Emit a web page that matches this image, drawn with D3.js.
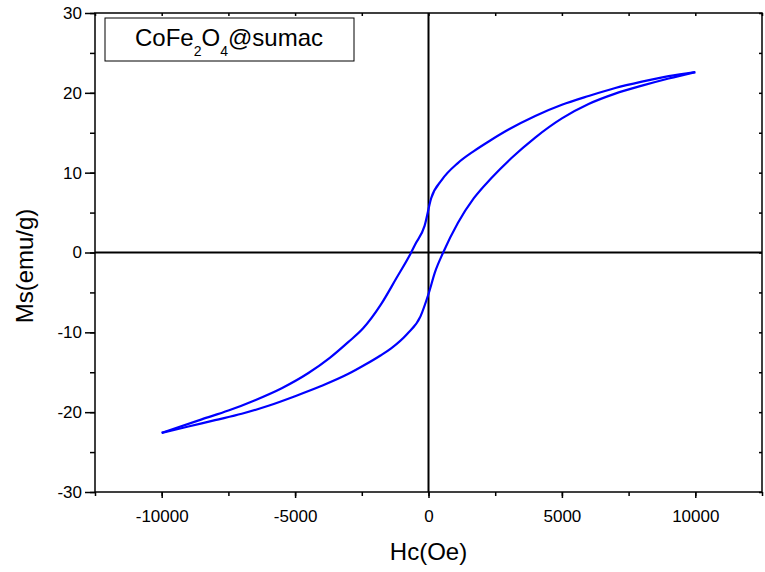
<!DOCTYPE html>
<html>
<head>
<meta charset="utf-8">
<script src="https://cdn.jsdelivr.net/npm/d3@7"></script>
<style>
  body { margin: 0; background: #fff; }
  svg { font-family: "Liberation Sans", Arial, sans-serif; }
</style>
</head>
<body>
<div id="chart"></div>
<script>
// DATA - read off the hysteresis loop
// descending branch (+10000 -> -10000)
var descH = [10000, 9000, 8000, 7000, 6000, 5000, 4000, 3000, 2300, 1700, 1100, 500, 100, -150, -500, -650, -1200, -1800, -2450, -3000, -3700, -4500, -5500, -6500, -7500, -8500, -10000];
var descM = [22.6, 22.1, 21.4, 20.6, 19.6, 18.5, 17.1, 15.4, 14.0, 12.7, 11.2, 9.1, 6.8, 3.3, 1.0, 0, -3.2, -6.6, -9.5, -11.2, -13.2, -15.1, -17.0, -18.5, -19.8, -20.9, -22.6];
// ascending branch (-10000 -> +10000)
var ascH = [-10000, -9000, -8000, -7000, -6000, -5000, -4000, -3000, -2400, -1800, -1400, -800, -300, 0, 250, 550, 1100, 1700, 2350, 3100, 4000, 5000, 6000, 7000, 8000, 9000, 10000];
var ascM = [-22.6, -21.8, -21.0, -20.2, -19.2, -18.0, -16.7, -15.2, -14.1, -12.9, -12.0, -10.2, -8.0, -5.2, -2.4, 0, 3.7, 6.8, 9.3, 11.8, 14.4, 16.8, 18.6, 19.9, 20.9, 21.8, 22.6];

var xTicks = [-10000, -5000, 0, 5000, 10000];
var yTicks = [-30, -20, -10, 0, 10, 20, 30];

var w = 765, h = 572;
var m = { left: 95, right: 762, top: 13, bottom: 492 };

buildIt();

function buildIt() {
  var svg = d3.select("#chart").append("svg").attr("width", w).attr("height", h);

  // SCALES
  var x = d3.scaleLinear().domain([-12500, 12500]).range([m.left, m.right]);
  var y = d3.scaleLinear().domain([-30, 30]).range([m.bottom, m.top]);

  // plain hyphen-minus like the original
  var fmt = function (d) { return String(d); };

  // zero lines
  svg.append("line")
    .attr("x1", m.left).attr("x2", m.right)
    .attr("y1", y(0)).attr("y2", y(0))
    .attr("stroke", "#000").attr("stroke-width", 2);
  svg.append("line")
    .attr("x1", x(0)).attr("x2", x(0))
    .attr("y1", m.top).attr("y2", m.bottom)
    .attr("stroke", "#000").attr("stroke-width", 2);

  // frame
  svg.append("rect")
    .attr("x", m.left).attr("y", m.top)
    .attr("width", m.right - m.left).attr("height", m.bottom - m.top)
    .attr("fill", "none").attr("stroke", "#000").attr("stroke-width", 1.5);

  // AXES
  var xMinor = d3.range(-12500, 12501, 2500);
  var yMinor = d3.range(-30, 31, 5);

  function styleAxis(g) {
    g.select(".domain").remove();
    g.selectAll("line").attr("stroke", "#000").attr("stroke-width", 1.5);
    g.selectAll("text").attr("fill", "#000").attr("font-size", "17px")
      .attr("font-family", "Liberation Sans, Arial, sans-serif");
  }

  // bottom minor + major
  svg.append("g")
    .attr("transform", "translate(0," + m.bottom + ")")
    .call(d3.axisBottom(x).tickValues(xMinor).tickSize(4).tickFormat(""))
    .call(styleAxis);
  svg.append("g")
    .attr("transform", "translate(0," + m.bottom + ")")
    .call(d3.axisBottom(x).tickValues(xTicks).tickSize(6).tickPadding(12).tickFormat(fmt))
    .call(styleAxis);

  // left minor + major
  svg.append("g")
    .attr("transform", "translate(" + m.left + ",0)")
    .call(d3.axisLeft(y).tickValues(yMinor).tickSize(5).tickFormat(""))
    .call(styleAxis);
  svg.append("g")
    .attr("transform", "translate(" + m.left + ",0)")
    .call(d3.axisLeft(y).tickValues(yTicks).tickSize(10).tickPadding(3).tickFormat(fmt))
    .call(styleAxis);

  // top and right inward ticks
  svg.append("g")
    .attr("transform", "translate(0," + m.top + ")")
    .call(d3.axisBottom(x).tickValues(xMinor).tickSize(3).tickFormat(""))
    .call(styleAxis);
  svg.append("g")
    .attr("transform", "translate(" + m.right + ",0)")
    .call(d3.axisLeft(y).tickValues(yMinor).tickSize(3).tickFormat(""))
    .call(styleAxis);

  // axis titles
  svg.append("text")
    .attr("x", x(0)).attr("y", 560)
    .attr("text-anchor", "middle")
    .attr("font-size", "24px")
    .text("Hc(Oe)");

  svg.append("text")
    .attr("transform", "translate(33,266) rotate(-90)")
    .attr("text-anchor", "middle")
    .attr("font-size", "24px")
    .text("Ms(emu/g)");

  // LOOP - each branch is monotone in H, so sort it by H and use monotoneX
  var line = d3.line()
    .x(function (d) { return x(d[0]); })
    .y(function (d) { return y(d[1]); })
    .curve(d3.curveMonotoneX);

  var desc = descH.map(function (d, i) { return [d, descM[i]]; }).reverse();
  var asc = ascH.map(function (d, i) { return [d, ascM[i]]; });

  [desc, asc].forEach(function (pts) {
    svg.append("path")
      .datum(pts)
      .attr("d", line)
      .attr("fill", "none")
      .attr("stroke", "#0000ff")
      .attr("stroke-width", 2.2);
  });

  // legend box
  svg.append("rect")
    .attr("x", 105).attr("y", 18)
    .attr("width", 249).attr("height", 43)
    .attr("fill", "#fff").attr("stroke", "#000").attr("stroke-width", 1);

  var label = svg.append("text")
    .attr("x", 135).attr("y", 46)
    .attr("font-size", "24px");
  label.append("tspan").text("CoFe");
  label.append("tspan").attr("font-size", "14px").attr("dy", 10).text("2");
  label.append("tspan").attr("dy", -10).text("O");
  label.append("tspan").attr("font-size", "14px").attr("dy", 10).text("4");
  label.append("tspan").attr("dy", -10).text("@sumac");
}
</script>
</body>
</html>
